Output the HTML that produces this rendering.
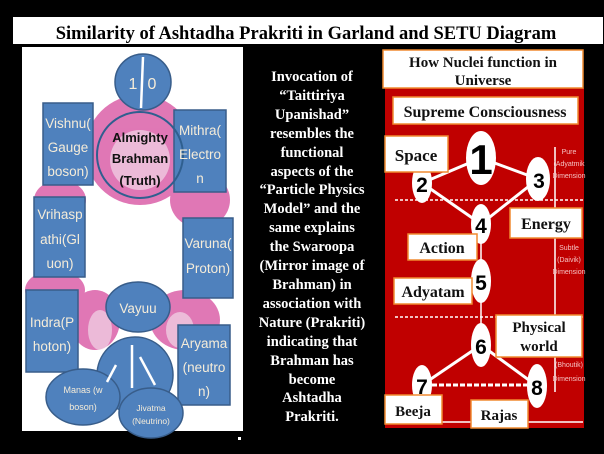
<!DOCTYPE html>
<html><head><meta charset="utf-8"><style>
html,body{margin:0;padding:0;background:#000;}
body{width:604px;height:454px;overflow:hidden;position:relative;}
svg{position:absolute;left:0;top:0;}
.mid{position:absolute;left:236px;width:152px;top:68px;text-align:center;color:#fff;font:bold 14.5px/18.9px "Liberation Serif",serif;}
</style></head><body>
<svg width="604" height="454" viewBox="0 0 604 454" xmlns="http://www.w3.org/2000/svg">
<rect x="0" y="0" width="604" height="454" fill="#000"/>
<rect x="13" y="17" width="590" height="27" fill="#fff"/>
<text x="306" y="39" text-anchor="middle" font-family="Liberation Serif" font-weight="bold" font-size="18.5" fill="#000">Similarity of Ashtadha Prakriti in Garland and SETU Diagram</text>
<rect x="22" y="47" width="221" height="384" fill="#fff"/>
<g fill="#d0308e" opacity="0.65">
<ellipse cx="140" cy="150" rx="55" ry="55"/>
<ellipse cx="200" cy="200" rx="30" ry="28"/>
<ellipse cx="60" cy="200" rx="26" ry="20"/>
<ellipse cx="55" cy="290" rx="30" ry="20"/>
<ellipse cx="95" cy="320" rx="25" ry="30"/>
<ellipse cx="185" cy="320" rx="35" ry="30"/>
</g>
<g fill="#f4e8f0" opacity="0.6">
<ellipse cx="140" cy="160" rx="30" ry="30"/>
<ellipse cx="100" cy="330" rx="12" ry="20"/>
<ellipse cx="180" cy="330" rx="14" ry="18"/>
</g>
<g fill="#4f81bd" stroke="#385d8a" stroke-width="1.5">
<circle cx="143" cy="82" r="28"/>
<rect x="43" y="103" width="50" height="82"/>
<rect x="174" y="110" width="52" height="82"/>
<rect x="34" y="197" width="51" height="80"/>
<rect x="183" y="218" width="50" height="80"/>
<ellipse cx="138" cy="307" rx="32" ry="25"/>
<rect x="26" y="290" width="52" height="82"/>
<rect x="178" y="325" width="52" height="80"/>
<circle cx="135" cy="375" r="38"/>
<ellipse cx="83" cy="397" rx="37" ry="28"/>
<ellipse cx="151" cy="413" rx="32" ry="25"/>
</g>
<circle cx="140" cy="155" r="43" fill="none" stroke="#2f5f8f" stroke-width="2"/>
<g stroke="#fff" stroke-width="2.5">
<line x1="143" y1="57" x2="141" y2="108"/>
<line x1="132" y1="345" x2="132" y2="388"/>
<line x1="116" y1="365" x2="107" y2="382"/>
<line x1="140" y1="357" x2="155" y2="385"/>
</g>
<g font-family="Liberation Sans" font-size="13.5" fill="#f5ecd9" text-anchor="middle">
<text x="133" y="89" font-size="16">1</text><text x="152" y="89" font-size="16">0</text>
<text x="68" y="128">Vishnu(</text><text x="68" y="152">Gauge</text><text x="68" y="176">boson)</text>
<text x="200" y="135">Mithra(</text><text x="200" y="159">Electro</text><text x="200" y="183">n</text>
<text x="60" y="219">Vrihasp</text><text x="60" y="244">athi(Gl</text><text x="60" y="268">uon)</text>
<text x="208" y="248">Varuna(</text><text x="208" y="273">Proton)</text>
<text x="138" y="313">Vayuu</text>
<text x="52" y="327">Indra(P</text><text x="52" y="351">hoton)</text>
<text x="204" y="348">Aryama</text><text x="204" y="372">(neutro</text><text x="204" y="396">n)</text>
<text x="83" y="393" font-size="9">Manas (w</text><text x="83" y="410" font-size="9">boson)</text>
<text x="151" y="411" font-size="8.5">Jivatma</text><text x="151" y="424" font-size="8.5">(Neutrino)</text>
</g>
<g font-family="Liberation Sans" fill="#111" text-anchor="middle" font-weight="bold">
<text x="140" y="142" font-size="13">Almighty</text><text x="140" y="163" font-size="13">Brahman</text><text x="140" y="185" font-size="13">(Truth)</text>
</g>
<rect x="238" y="437" width="3" height="3" fill="#fff"/>
<rect x="385" y="88" width="199" height="340" fill="#c00000"/>
<line x1="387" y1="422" x2="583" y2="422" stroke="#fff" stroke-width="1.5"/>
<g stroke="#fff" stroke-width="3">
<line x1="481" y1="158" x2="422" y2="183"/>
<line x1="481" y1="158" x2="538" y2="179"/>
<line x1="422" y1="183" x2="481" y2="224"/>
<line x1="538" y1="179" x2="481" y2="224"/>
<line x1="481" y1="224" x2="481" y2="345" stroke-width="1.5"/>
<line x1="481" y1="345" x2="422" y2="385"/>
<line x1="481" y1="345" x2="537" y2="386"/>
</g>
<g stroke="#fff" stroke-width="1.5" stroke-dasharray="3,2">
<line x1="395" y1="200" x2="583" y2="200"/>
<line x1="395" y1="317" x2="583" y2="317"/>
</g>
<line x1="432" y1="385" x2="527" y2="385" stroke="#fff" stroke-width="3" stroke-dasharray="5,2"/>
<line x1="555" y1="147" x2="555" y2="392" stroke="#fff" stroke-width="1.5"/>
<g fill="#fff">
<ellipse cx="481" cy="158" rx="15" ry="27"/>
<ellipse cx="422" cy="183" rx="10" ry="20"/>
<ellipse cx="538" cy="179" rx="12" ry="22"/>
<ellipse cx="481" cy="224" rx="10" ry="20"/>
<ellipse cx="481" cy="281" rx="10" ry="22"/>
<ellipse cx="481" cy="345" rx="10" ry="22"/>
<ellipse cx="422" cy="385" rx="10" ry="20"/>
<ellipse cx="537" cy="386" rx="10" ry="22"/>
</g>
<g font-family="Liberation Sans" font-weight="bold" fill="#000" text-anchor="middle">
<text x="481" y="174" font-size="42">1</text>
<text x="422" y="192" font-size="21">2</text>
<text x="539" y="188" font-size="21">3</text>
<text x="481" y="233" font-size="21">4</text>
<text x="481" y="290" font-size="21">5</text>
<text x="481" y="354" font-size="21">6</text>
<text x="422" y="394" font-size="21">7</text>
<text x="537" y="395" font-size="21">8</text>
</g>
<g font-family="Liberation Sans" font-size="7" fill="#f4c0c0" text-anchor="middle">
<text x="569" y="154">Pure</text><text x="569" y="166">(Adyatmik</text><text x="569" y="178">Dimension</text>
<text x="569" y="250">Subtle</text><text x="569" y="262">(Daivik)</text><text x="569" y="274">Dimension</text>
<text x="569" y="367">(Bhoutik)</text><text x="569" y="381">Dimension</text>
</g>
<g fill="#fff" stroke="#f08a30" stroke-width="1.5">
<rect x="383" y="50" width="200" height="38"/>
<rect x="393" y="97" width="185" height="27"/>
<rect x="385" y="136" width="63" height="36"/>
<rect x="510" y="208" width="72" height="30"/>
<rect x="408" y="234" width="69" height="26"/>
<rect x="394" y="278" width="78" height="26"/>
<rect x="496" y="315" width="86" height="42"/>
<rect x="385" y="395" width="57" height="29"/>
<rect x="471" y="400" width="57" height="28"/>
</g>
<g font-family="Liberation Serif" font-weight="bold" fill="#111" text-anchor="middle">
<text x="483" y="67" font-size="15">How Nuclei function in</text>
<text x="483" y="85" font-size="15">Universe</text>
<text x="485" y="117" font-size="16">Supreme Consciousness</text>
<text x="416" y="161" font-size="17">Space</text>
<text x="546" y="229" font-size="16">Energy</text>
<text x="442" y="253" font-size="16">Action</text>
<text x="433" y="297" font-size="16">Adyatam</text>
<text x="539" y="332" font-size="15">Physical</text>
<text x="539" y="351" font-size="15">world</text>
<text x="413" y="416" font-size="15">Beeja</text>
<text x="499" y="420" font-size="15">Rajas</text>
</g>
</svg>
<div class="mid">Invocation of<br>“Taittiriya<br>Upanishad”<br>resembles the<br>functional<br>aspects of the<br>“Particle Physics<br>Model” and the<br>same explains<br>the Swaroopa<br>(Mirror image of<br>Brahman) in<br>association with<br>Nature (Prakriti)<br>indicating that<br>Brahman has<br>become<br>Ashtadha<br>Prakriti.</div>
</body></html>
